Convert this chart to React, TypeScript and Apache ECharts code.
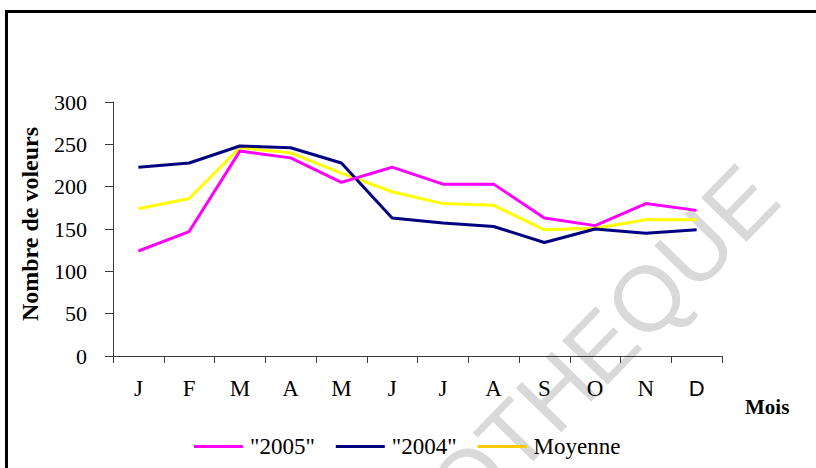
import React, { useEffect, useRef } from "react";
import * as echarts from "echarts";

const months = ["J", "F", "M", "A", "M", "J", "J", "A", "S", "O", "N", "D"];
const seriesNames = ['"2005"', '"2004"', "Moyenne"];
const values2005 = [124, 147, 242, 234, 205, 223, 203, 203, 163, 154, 180, 172];
const values2004 = [223, 228, 248, 246, 228, 163, 157, 153, 134, 150, 145, 149];
const valuesMoyenne = [174, 186, 246, 240, 216, 194, 180, 178, 149, 151, 161, 161];
const yTicks = { min: 0, max: 300, interval: 50 };
const yTitle = "Nombre de voleurs";
const xTitle = "Mois";
const watermark = "OTHEQUE";

const SERIF = "'Liberation Serif', 'Times New Roman', serif";
const SANS = "'Liberation Sans', Arial, sans-serif";

export default function App() {
  const ref = useRef<HTMLDivElement>(null);

  useEffect(() => {
    if (!ref.current) return;
    const chart = echarts.init(ref.current, null, { renderer: "svg" });
    const axisColor = "#3a3a3a";
    chart.setOption({
      animation: false,
      backgroundColor: "#ffffff",
      grid: { left: 113, top: 102, right: 94, bottom: 112, outerBoundsMode: "none" },
      legend: {
        left: 194,
        top: 435,
        padding: 0,
        itemWidth: 49,
        itemHeight: 3,
        itemGap: 21,
        icon: "rect",
        textStyle: { fontFamily: SERIF, fontSize: 23, color: "#000", padding: [0, 0, 0, 2] },
        data: [
          { name: seriesNames[0], itemStyle: { color: "#FF00FF" } },
          { name: seriesNames[1], itemStyle: { color: "#000080" } },
          { name: seriesNames[2], itemStyle: { color: "#FFCC00" } },
        ],
      },
      xAxis: {
        type: "category",
        data: months,
        boundaryGap: true,
        axisLine: { show: true, lineStyle: { color: axisColor, width: 1 } },
        axisTick: { show: true, length: 7, alignWithLabel: false, lineStyle: { color: axisColor } },
        axisLabel: {
          interval: 0,
          margin: 21,
          fontFamily: SERIF,
          fontSize: 23,
          color: "#000",
          formatter: (v: string) => (v === "D" ? "{s|D}" : v),
          rich: { s: { fontFamily: SANS, fontSize: 22, color: "#000" } },
        },
        splitLine: { show: false },
      },
      yAxis: {
        type: "value",
        min: yTicks.min,
        max: yTicks.max,
        interval: yTicks.interval,
        axisLine: { show: true, lineStyle: { color: axisColor, width: 1 } },
        axisTick: { show: true, length: 8, lineStyle: { color: axisColor } },
        axisLabel: { margin: 26, fontFamily: SERIF, fontSize: 22, color: "#000" },
        splitLine: { show: false },
      },
      series: [
        {
          name: seriesNames[0],
          type: "line",
          data: values2005,
          symbol: "none",
          lineStyle: { color: "#FF00FF", width: 3 },
          itemStyle: { color: "#FF00FF" },
          z: 4,
        },
        {
          name: seriesNames[1],
          type: "line",
          data: values2004,
          symbol: "none",
          lineStyle: { color: "#000080", width: 3 },
          itemStyle: { color: "#000080" },
          z: 3,
        },
        {
          name: seriesNames[2],
          type: "line",
          data: valuesMoyenne,
          symbol: "none",
          lineStyle: { color: "#FFFF00", width: 3 },
          itemStyle: { color: "#FFCC00" },
          z: 2,
        },
      ],
      graphic: {
        elements: [
          {
            type: "text",
            x: 761,
            y: 181,
            rotation: 0.8,
            z: 0,
            silent: true,
            style: {
              text: watermark,
              x: 0,
              y: 0,
              align: "right",
              verticalAlign: "middle",
              fontFamily: SANS,
              fontSize: 92,
              fill: "#d9d9d9",
            },
          },
          {
            type: "text",
            x: 30,
            y: 224,
            rotation: Math.PI / 2,
            z: 10,
            style: {
              text: yTitle,
              x: 0,
              y: 0,
              align: "center",
              verticalAlign: "middle",
              fontFamily: SERIF,
              fontWeight: "bold",
              fontSize: 24,
              fill: "#000",
            },
          },
          {
            type: "text",
            x: 745,
            y: 407,
            z: 10,
            style: {
              text: xTitle,
              x: 0,
              y: 0,
              align: "left",
              verticalAlign: "middle",
              fontFamily: SERIF,
              fontWeight: "bold",
              fontSize: 21,
              fill: "#000",
            },
          },
          {
            type: "rect",
            z: 20,
            silent: true,
            shape: { x: 6.5, y: 11.5, width: 1000, height: 1000 },
            style: { fill: "none", stroke: "#000", lineWidth: 3 },
          },
        ],
      },
    });
    return () => chart.dispose();
  }, []);

  return (
    <div
      ref={ref}
      style={{ position: "absolute", left: 0, top: 0, width: 816, height: 468, background: "#fff" }}
    />
  );
}
